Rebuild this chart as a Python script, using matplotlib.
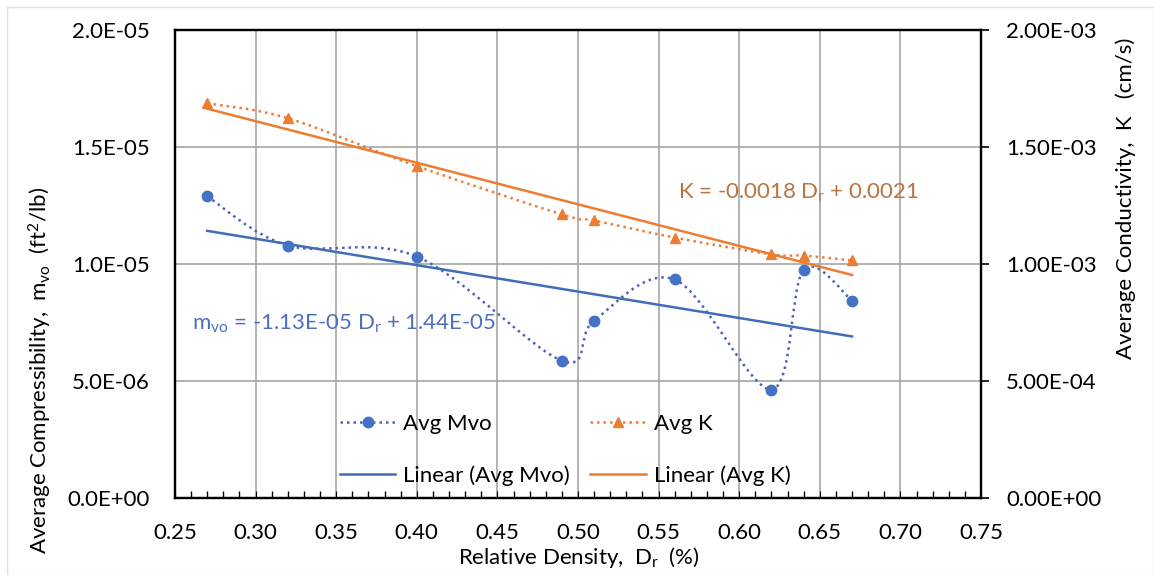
import numpy as np
import matplotlib
matplotlib.use("Agg")
import matplotlib.pyplot as plt
from matplotlib.path import Path
from matplotlib.patches import PathPatch, Rectangle
from matplotlib.lines import Line2D
from matplotlib.ticker import MultipleLocator

plt.rcParams['font.family'] = ['Lato', 'DejaVu Sans']
plt.rcParams['mathtext.fontset'] = 'custom'
plt.rcParams['mathtext.rm'] = 'Lato'
plt.rcParams['mathtext.it'] = 'Lato'

# ---- data ----
dr = [0.27, 0.32, 0.40, 0.49, 0.51, 0.56, 0.62, 0.64, 0.67]
avg_mvo = [1.289e-5, 1.079e-5, 1.032e-5, 0.587e-5, 0.758e-5, 0.934e-5, 0.463e-5, 0.976e-5, 0.844e-5]
avg_k = [1.687e-3, 1.623e-3, 1.418e-3, 1.212e-3, 1.186e-3, 1.113e-3, 1.041e-3, 1.036e-3, 1.015e-3]

x_ticks = [0.25, 0.30, 0.35, 0.40, 0.45, 0.50, 0.55, 0.60, 0.65, 0.70, 0.75]
left_ticks = [0, 5e-6, 1e-5, 1.5e-5, 2e-5]
left_labels = ["0.0E+00", "5.0E-06", "1.0E-05", "1.5E-05", "2.0E-05"]
right_ticks = [0, 5e-4, 1e-3, 1.5e-3, 2e-3]
right_labels = ["0.00E+00", "5.00E-04", "1.00E-03", "1.50E-03", "2.00E-03"]

BLUE = '#4472C4'
BLUE_DOT = '#4F63B8'
BLUE_TREND = '#3F6DB8'
ORANGE = '#ED7D31'
ORANGE_DOT = '#EE7B3A'
BLUE_TXT = '#4E6FBF'
ORANGE_TXT = '#B8733F'
FS = 16


def smooth_path(x, y):
    pts = np.column_stack([x, y]).astype(float)
    n = len(pts)
    verts = [pts[0]]
    codes = [Path.MOVETO]
    for i in range(n - 1):
        p0 = pts[i - 1] if i > 0 else pts[i]
        p1 = pts[i]
        p2 = pts[i + 1]
        p3 = pts[i + 2] if i + 2 < n else pts[i + 1]
        c1 = p1 + (p2 - p0) / 6.0
        c2 = p2 - (p3 - p1) / 6.0
        verts += [c1, c2, p2]
        codes += [Path.CURVE4] * 3
    return Path(verts, codes)


fig = plt.figure(figsize=(11.54, 5.75), dpi=100)
ax = fig.add_axes([175 / 1154, 1 - 498 / 575, (981 - 175) / 1154, (498 - 30) / 575])
ax2 = ax.twinx()

dotted = (0, (1, 1.6))

# Mvo series
ax.add_patch(PathPatch(smooth_path(dr, avg_mvo), fill=False, edgecolor=BLUE_DOT,
                       lw=1.8, linestyle=dotted, zorder=3))
ax.plot(dr, avg_mvo, linestyle='none', marker='o', ms=7.5, color=BLUE, zorder=4)
cm = np.polyfit(dr, avg_mvo, 1)
xf = np.array([min(dr), max(dr)])
ax.plot(xf, np.polyval(cm, xf), color=BLUE_TREND, lw=1.8, zorder=3)

# K series
ax2.add_patch(PathPatch(smooth_path(dr, avg_k), fill=False, edgecolor=ORANGE_DOT,
                        lw=1.8, linestyle=dotted, zorder=3))
ax2.plot(dr, avg_k, linestyle='none', marker='^', ms=7.5, color=ORANGE, zorder=4)
ck = np.polyfit(dr, avg_k, 1)
ax2.plot(xf, np.polyval(ck, xf), color=ORANGE, lw=1.8, zorder=3)

# axes
ax.set_xlim(0.25, 0.75)
ax.set_ylim(0, 2e-5)
ax2.set_ylim(0, 2e-3)
ax.set_xticks(x_ticks)
ax.xaxis.set_minor_locator(MultipleLocator(0.01))
ax.set_xticklabels([f"{v:.2f}" for v in x_ticks])
ax.set_yticks(left_ticks)
ax.set_yticklabels(left_labels)
ax2.set_yticks(right_ticks)
ax2.set_yticklabels(right_labels)

ax.grid(True, which='major', color='#A6A6A6', lw=1.2)
ax.set_axisbelow(True)
for sp in list(ax.spines.values()) + list(ax2.spines.values()):
    sp.set_color('black')
    sp.set_linewidth(1.6)

ax.tick_params(axis='x', which='both', direction='in', labelsize=FS, pad=18,
               colors='black')
ax.tick_params(axis='x', which='major', length=5)
ax.tick_params(axis='x', which='minor', length=5, width=1)
ax.tick_params(axis='y', length=0, labelsize=FS, pad=18)
ax2.tick_params(axis='y', direction='out', length=6, width=1.2, labelsize=FS, pad=12)

fig.text(40 / 1154, 1 - 370 / 575,
         r"Average Compressibility,  m$_{\mathrm{vo}}$  (ft$^{2}$/lb)",
         rotation=90, ha='center', va='center', fontsize=FS)
fig.text(1126 / 1154, 1 - 198 / 575, "Average Conductivity,  K   (cm/s)",
         rotation=90, ha='center', va='center', fontsize=FS)
fig.text(579 / 1154, 1 - 557 / 575, r"Relative Density,  D$_{\mathrm{r}}$  (%)",
         ha='center', va='center', fontsize=FS)

# trendline equations
ax.text(192 / 1154, 1 - 324 / 575,
        r"m$_{\mathrm{vo}}$ = -1.13E-05 D$_{\mathrm{r}}$ + 1.44E-05",
        transform=fig.transFigure, ha='left', va='center', fontsize=FS,
        color=BLUE_TXT, zorder=5)
ax2.text(678 / 1154, 1 - 193 / 575,
         r"K = -0.0018 D$_{\mathrm{r}}$ + 0.0021",
         transform=fig.transFigure, ha='left', va='center', fontsize=FS,
         color=ORANGE_TXT, zorder=5)

# legend
handles = [
    Line2D([], [], color=BLUE_DOT, lw=1.8, linestyle=dotted, marker='o', ms=7.5,
           markerfacecolor=BLUE, markeredgecolor=BLUE),
    Line2D([], [], color=BLUE_TREND, lw=1.8),
    Line2D([], [], color=ORANGE_DOT, lw=1.8, linestyle=dotted, marker='^', ms=7.5,
           markerfacecolor=ORANGE, markeredgecolor=ORANGE),
    Line2D([], [], color=ORANGE, lw=1.8),
]
labels = ["Avg Mvo", "Linear (Avg Mvo)", "Avg K", "Linear (Avg K)"]
ax2.legend(handles, labels, ncol=2, frameon=False, fontsize=FS,
           loc='center', bbox_to_anchor=(0.484, 0.103),
           handlelength=2.5, handletextpad=0.36, columnspacing=0.9,
           labelspacing=1.4, borderpad=0)

fig.patches.append(Rectangle((7 / 1154, 0), 1 - 7 / 1154, 1 - 7 / 575,
                             transform=fig.transFigure, fill=False,
                             edgecolor='#E0E0E0', lw=1))

fig.savefig("out.png", dpi=100)
